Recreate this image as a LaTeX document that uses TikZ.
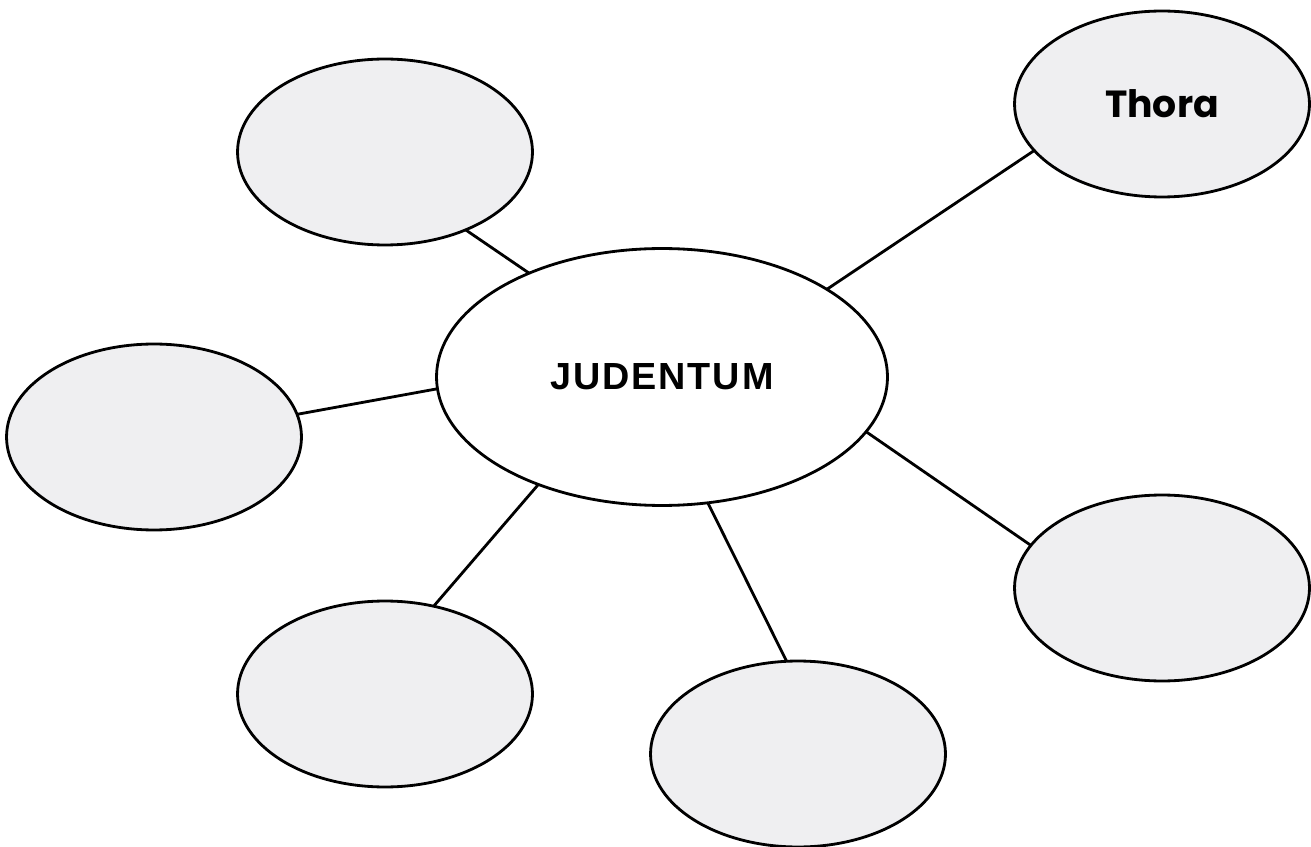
\documentclass[tikz,border=0pt]{standalone}
\usepackage{fontspec}
\setmainfont{Liberation Sans}
\newfontfamily\thorafont{Poppins}
\usetikzlibrary{shapes.geometric}
\definecolor{bubblegray}{RGB}{239,239,241}

\begin{document}
\begin{tikzpicture}[x=0.02cm, y=-0.02cm, every node/.style={ellipse, draw=black, line width=1.6pt, inner sep=0pt, outer sep=0pt}, bubble/.style={fill=bubblegray, minimum width=5.9cm, minimum height=3.72cm}, link/.style={line width=1.6pt, black}]
\useasboundingbox[fill=white] (0,0) rectangle (1311,847);

\node[fill=white, minimum width=9.02cm, minimum height=5.14cm] (judentum) at (662,377) {\fontsize{21.5}{24}\selectfont\bfseries\addfontfeature{LetterSpace=5}JUDENTUM};

\node[bubble] (topleft) at (385,152) {};
\node[bubble] (thora) at (1162,104) {\fontsize{21.5}{24}\selectfont\thorafont\bfseries Thora};
\node[bubble] (left) at (154,437) {};
\node[bubble] (right) at (1162,588) {};
\node[bubble] (bottomleft) at (385,694) {};
\node[bubble] (bottommid) at (798,754) {};

\draw[link] (judentum.142) -- (topleft.-44);
\draw[link] (judentum.28) -- (thora.200);
\draw[link] (judentum.183) -- (left.9);
\draw[link] (judentum.-15) -- (right.162);
\draw[link] (judentum.221) -- (bottomleft.61);
\draw[link] (judentum.-70) -- (bottommid.97);
\end{tikzpicture}
\end{document}
